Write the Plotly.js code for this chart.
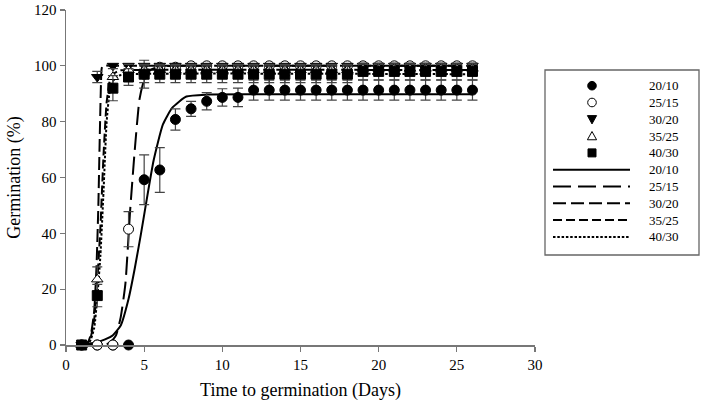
<!DOCTYPE html>
<html>
<head>
<meta charset="utf-8">
<script src="https://cdn.plot.ly/plotly-3.0.1.min.js"></script>
<style>html,body{margin:0;padding:0;background:#fff;}#chart{width:703px;height:410px;}</style>
</head>
<body>
<div id="chart"></div>
<script>
// ---- observed data (days 1..26) ----
const days = [1,2,3,4,5,6,7,8,9,10,11,12,13,14,15,16,17,18,19,20,21,22,23,24,25,26];

const obs2010 = [0,0,0,0,59.2,62.7,80.8,84.6,87.3,88.7,88.7,91.3,91.3,91.3,91.3,91.3,91.3,91.3,91.3,91.3,91.3,91.3,91.3,91.3,91.3,91.3];
const err2010 = [null,null,null,null,8.9,8,3.8,2.7,3.1,3.1,3.3,3.6,3.6,3.6,3.6,3.6,3.6,3.6,3.6,3.6,3.6,3.6,3.6,3.6,3.6,3.6];

const obs2515 = [0,0,0,41.5,97,99.5,99.5,100,100,100,100,100,100,100,100,100,100,100,100,100,100,100,100,100,100,100];
const err2515 = [null,null,null,6.3,5,1,1,null,null,null,null,null,null,null,null,null,null,null,null,null,null,null,null,null,null,null];

const obs3020 = [0,96,100,100,100,100,100,100,100,100,100,100,100,100,100,100,100,100,100,100,100,100,100,100,100,100];
const err3020 = [null,2,null,null,null,null,null,null,null,null,null,null,null,null,null,null,null,null,null,null,null,null,null,null,null,null];

const obs3525 = [0,23.5,96,98.5,98.5,98.5,98.5,98.5,98.5,98.5,98.5,98.5,98.5,98.5,98.5,98.5,98.5,98.5,99,99,99,99,99,99,99,99];
const err3525 = [null,4.5,3,2,2,2,2,2,2,2,2,2,2,2,2,2,2,2,1.5,1.5,1.5,1.5,1.5,1.5,1.5,1.5];

const obs4030 = [0,17.7,92,96,97,97,97,97,97,97,97,97,97,97,97,97,97,97,98,98,98,98,98,98,98,98];
const err4030 = [null,4,4.5,3,3,3,3,3,3,3,3,3,3,3,3,3,3,3,3,3,3,3,3,3,3,3];

// ---- fitted curves ----
const fitX2010 = [1,1.5,2,2.5,3,3.5,4,4.4,4.8,5.1,5.6,6.2,6.8,7.7,9,12,18,26];
const fitY2010 = [0.3,0.5,1,2,3.5,7,16.5,27.5,40,50,66,79,85,89,89.7,89.8,89.8,89.8];

const fitX2515 = [1,2,2.8,3.2,3.5,3.8,4.1,4.4,4.7,5.0,5.4,6,7,26];
const fitY2515 = [0,0,0.7,3.5,10,22,48,70,88,95,98.5,99.8,100,100];

const fitX3020 = [1,1.4,1.6,1.8,1.95,2.07,2.15,2.22,2.28,2.35,3,26];
const fitY3020 = [0,1,4,12,28,50,72,90,99,100,100,100];

const fitX3525 = [1,1.5,1.8,2.0,2.2,2.4,2.6,2.8,3.0,3.4,4,26];
const fitY3525 = [0,1.5,9,23,42,68,87,94.5,97,98.3,98.5,98.5];

const fitX4030 = [1,1.5,1.8,2.0,2.2,2.4,2.6,2.8,3.0,3.4,4,26];
const fitY4030 = [0,1,6,17,32,55,80,91,94.5,96.5,97,97];

const seriesNames = ['20/10','25/15','30/20','35/25','40/30'];
const xTicks = [0,5,10,15,20,25,30];
const yTicks = [0,20,40,60,80,100,120];

const FONT = 'Liberation Serif, Times New Roman, serif';
const ERRC = '#444';

function curve(x, y, dash) {
  return {x: x, y: y, type: 'scatter', mode: 'lines', line: {color: '#000', width: 2, dash: dash, shape: 'spline', smoothing: 0.5}, hoverinfo: 'skip', cliponaxis: false};
}
function pts(y, err, symbol, fill) {
  return {x: days, y: y, type: 'scatter', mode: 'markers', cliponaxis: false,
    marker: {symbol: symbol, size: 10, color: fill, line: {color: '#000', width: 1}},
    error_y: {type: 'data', array: err, visible: true, color: ERRC, thickness: 1.2, width: 5}};
}

const dashes = ['solid', '18px,7px', '13px,5px', '9px,4px', '2.5px,1.8px'];

const traces = [
  curve(fitX2010, fitY2010, dashes[0]),
  curve(fitX2515, fitY2515, dashes[1]),
  curve(fitX3020, fitY3020, dashes[2]),
  curve(fitX3525, fitY3525, dashes[3]),
  curve(fitX4030, fitY4030, dashes[4]),
  pts(obs2010, err2010, 'circle', '#000'),
  pts(obs2515, err2515, 'circle', '#fff'),
  pts(obs3020, err3020, 'triangle-down', '#000'),
  pts(obs3525, err3525, 'triangle-up', '#fff'),
  pts(obs4030, err4030, 'square', '#000')
];

// ---- custom legend (layout geometry in pixels, converted to paper) ----
const L = 66, R = 535, T = 10, B = 345;
const PX = p => (p - L) / (R - L);
const PY = p => (B - p) / (B - T);
const rowsY = [85.7, 102.5, 119.3, 136.1, 152.9, 169.7, 186.5, 203.3, 220.1, 236.9];
const mx = 592;
const shapes = [];
const annotations = [];
shapes.push({type: 'rect', xref: 'paper', yref: 'paper', x0: PX(545), x1: PX(699), y0: PY(255), y1: PY(70), line: {color: '#666', width: 1.3}, fillcolor: 'rgba(0,0,0,0)'});
const r = 4.3;
function tri(cx, cy, down) {
  const h = 4.6, w = 4.6;
  if (down) return `M${PX(cx - w)},${PY(cy - h*0.8)} L${PX(cx + w)},${PY(cy - h*0.8)} L${PX(cx)},${PY(cy + h)} Z`;
  return `M${PX(cx - w)},${PY(cy + h*0.8)} L${PX(cx + w)},${PY(cy + h*0.8)} L${PX(cx)},${PY(cy - h)} Z`;
}
shapes.push({type: 'circle', xref: 'paper', yref: 'paper', x0: PX(mx - r), x1: PX(mx + r), y0: PY(rowsY[0] + r), y1: PY(rowsY[0] - r), fillcolor: '#000', line: {color: '#000', width: 1}});
shapes.push({type: 'circle', xref: 'paper', yref: 'paper', x0: PX(mx - r), x1: PX(mx + r), y0: PY(rowsY[1] + r), y1: PY(rowsY[1] - r), fillcolor: '#fff', line: {color: '#000', width: 1}});
shapes.push({type: 'path', xref: 'paper', yref: 'paper', path: tri(mx, rowsY[2], true), fillcolor: '#000', line: {color: '#000', width: 1}});
shapes.push({type: 'path', xref: 'paper', yref: 'paper', path: tri(mx, rowsY[3], false), fillcolor: '#fff', line: {color: '#000', width: 1}});
shapes.push({type: 'rect', xref: 'paper', yref: 'paper', x0: PX(mx - 4), x1: PX(mx + 4), y0: PY(rowsY[4] + 4), y1: PY(rowsY[4] - 4), fillcolor: '#000', line: {color: '#000', width: 1}});
for (let i = 0; i < 5; i++) {
  const y = PY(rowsY[5 + i]);
  shapes.push({type: 'line', xref: 'paper', yref: 'paper', x0: PX(553), x1: PX(630), y0: y, y1: y, line: {color: '#000', width: 2, dash: dashes[i]}});
}
for (let i = 0; i < 10; i++) {
  annotations.push({xref: 'paper', yref: 'paper', x: PX(647), y: PY(rowsY[i]), xanchor: 'left', yanchor: 'middle', text: seriesNames[i % 5], showarrow: false, font: {family: FONT, size: 13, color: '#000'}});
}

const layout = {
  width: 703, height: 410,
  margin: {l: L, r: 703 - R, t: T, b: 410 - B},
  paper_bgcolor: '#fff', plot_bgcolor: '#fff',
  showlegend: false,
  font: {family: FONT, color: '#000'},
  xaxis: {range: [0, 30], tickvals: xTicks, ticks: 'outside', ticklen: 5, tickcolor: '#777', tickwidth: 1.3,
    showline: true, linecolor: '#777', linewidth: 1.5, showgrid: false, zeroline: false, ticklabeloverflow: 'allow',
    tickfont: {family: FONT, size: 15, color: '#000'},
    title: {text: 'Time to germination (Days)', font: {family: FONT, size: 18, color: '#000'}, standoff: 12}},
  yaxis: {range: [0, 120], tickvals: yTicks, ticks: 'outside', ticklen: 5, tickcolor: '#777', tickwidth: 1.3,
    showline: true, linecolor: '#777', linewidth: 1.5, showgrid: false, zeroline: false, ticklabeloverflow: 'allow',
    tickfont: {family: FONT, size: 15, color: '#000'},
    title: {text: 'Germination (%)', font: {family: FONT, size: 18, color: '#000'}, standoff: 8}},
  shapes: shapes,
  annotations: annotations
};

Plotly.newPlot('chart', traces, layout, {displayModeBar: false, staticPlot: true});
</script>
</body>
</html>
